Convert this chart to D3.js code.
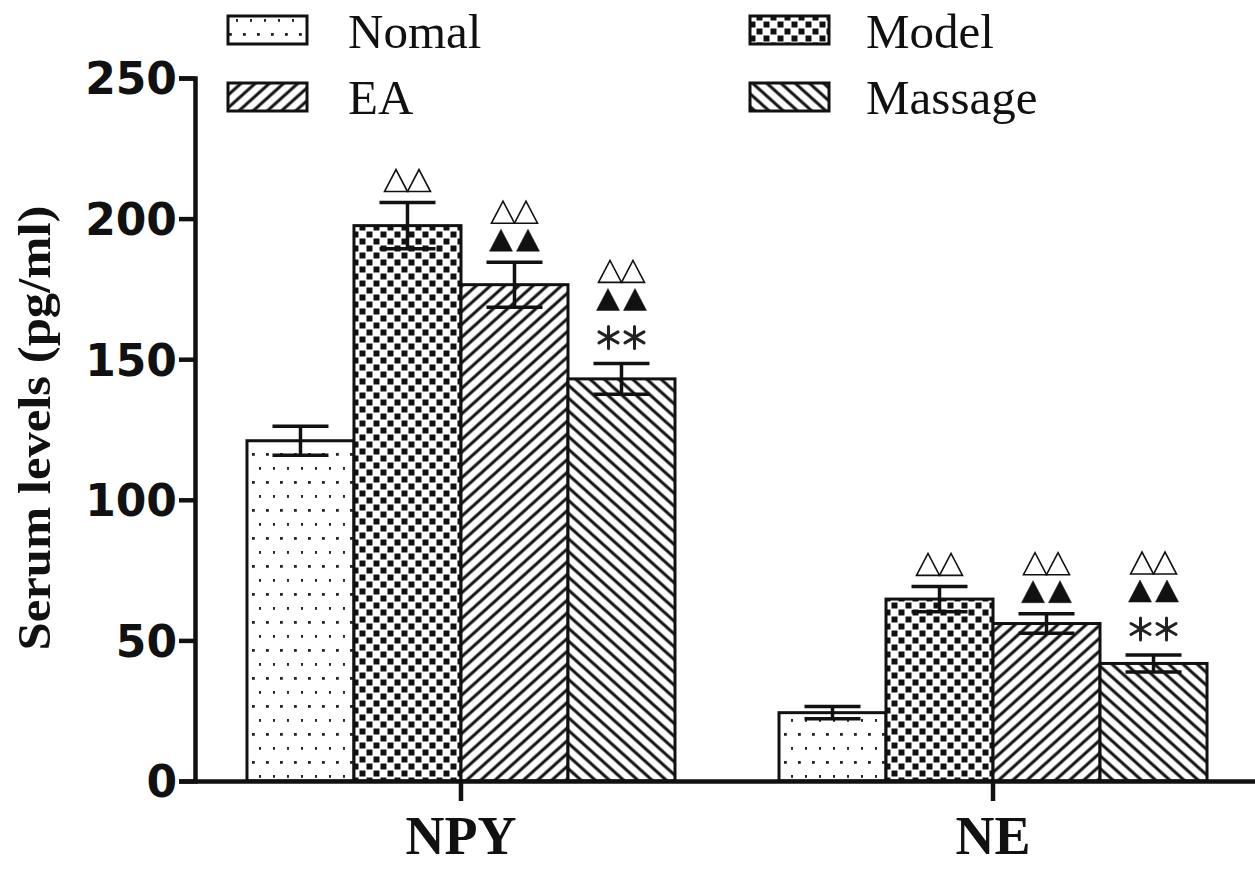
<!DOCTYPE html>
<html>
<head>
<meta charset="utf-8">
<script src="https://cdn.jsdelivr.net/npm/d3@7"></script>
<style>
  html, body { margin: 0; padding: 0; background: #fff; }
  svg { display: block; }
</style>
</head>
<body>
<svg id="chart" width="1255" height="869"></svg>
<script>
// ---- data ----
const categories = ["NPY", "NE"];
const series = ["Nomal", "Model", "EA", "Massage"];
const npyMeans = [121, 197.5, 176.5, 143];
const npyErrors = [5.2, 8.2, 8, 5.5];
const neMeans = [24.3, 64.7, 56, 41.8];
const neErrors = [2.2, 4.5, 3.5, 3];
const yTicks = [0, 50, 100, 150, 200, 250];
const yTitle = "Serum levels (pg/ml)";
// significance markers per series (bottom to top): star = **, filled = ▲▲, open = △△
const npyMarks = [[], ["open"], ["filled", "open"], ["star", "filled", "open"]];
const neMarks = [[], ["open"], ["filled", "open"], ["star", "filled", "open"]];

const meansByCat = [npyMeans, neMeans];
const errsByCat = [npyErrors, neErrors];
const marksByCat = [npyMarks, neMarks];

const svg = d3.select("#chart");
const defs = svg.append("defs");

// patterns
const pDots = defs.append("pattern").attr("id", "pat-Nomal")
  .attr("patternUnits", "userSpaceOnUse").attr("width", 14).attr("height", 28);
pDots.append("rect").attr("width", 14).attr("height", 28).attr("fill", "#fff");
[[5, 5], [12, 19]].forEach(([x, y]) =>
  pDots.append("rect").attr("x", x).attr("y", y).attr("width", 2.8).attr("height", 2.8).attr("fill", "#222"));

const pCheck = defs.append("pattern").attr("id", "pat-Model")
  .attr("patternUnits", "userSpaceOnUse").attr("width", 14).attr("height", 14);
pCheck.append("rect").attr("width", 14).attr("height", 14).attr("fill", "#fff");
pCheck.append("rect").attr("x", 0.5).attr("y", 0.5).attr("width", 6).attr("height", 6).attr("fill", "#111");
pCheck.append("rect").attr("x", 7.5).attr("y", 7.5).attr("width", 6).attr("height", 6).attr("fill", "#111");

function hatch(id, angle) {
  const s = 9.5;
  const p = defs.append("pattern").attr("id", id)
    .attr("patternUnits", "userSpaceOnUse").attr("width", s).attr("height", s)
    .attr("patternTransform", `rotate(${angle})`);
  p.append("rect").attr("width", s).attr("height", s).attr("fill", "#fff");
  p.append("line").attr("x1", 0).attr("x2", s).attr("y1", s / 2).attr("y2", s / 2)
    .attr("stroke", "#111").attr("stroke-width", 3);
}
hatch("pat-EA", -42);
hatch("pat-Massage", 42);

// scales
const y = d3.scaleLinear().domain([0, 250]).range([781, 78]);
const x0 = d3.scaleBand().domain(categories).range([195, 1259])
  .paddingInner(0.1955).paddingOuter(0.0977);
const x1 = d3.scaleBand().domain(series).range([0, x0.bandwidth()]).padding(0);

// bars
const groups = svg.append("g").selectAll("g").data(categories).join("g")
  .attr("transform", d => `translate(${x0(d)},0)`);

groups.each(function (cat, ci) {
  const g = d3.select(this);
  const rows = series.map((s, si) => ({ s, v: meansByCat[ci][si], e: errsByCat[ci][si], m: marksByCat[ci][si] }));
  g.selectAll("rect.bar").data(rows).join("rect").attr("class", "bar")
    .attr("x", d => x1(d.s)).attr("width", x1.bandwidth())
    .attr("y", d => y(d.v)).attr("height", d => y(0) - y(d.v))
    .attr("fill", d => `url(#pat-${d.s})`)
    .attr("stroke", "#111").attr("stroke-width", 3);

  // error bars
  const capW = 56;
  rows.forEach(d => {
    const cx = x1(d.s) + x1.bandwidth() / 2;
    const eg = g.append("g").attr("stroke", "#111").attr("stroke-width", 3.5);
    eg.append("line").attr("x1", cx).attr("x2", cx).attr("y1", y(d.v + d.e)).attr("y2", y(d.v - d.e));
    eg.append("line").attr("x1", cx - capW / 2).attr("x2", cx + capW / 2).attr("y1", y(d.v + d.e)).attr("y2", y(d.v + d.e));
    eg.append("line").attr("x1", cx - capW / 2).attr("x2", cx + capW / 2).attr("y1", y(d.v - d.e)).attr("y2", y(d.v - d.e));

    // significance markers
    let prevC = null, prevType = null;
    d.m.forEach((type, i) => {
      let c;
      if (i === 0) c = y(d.v + d.e) - (type === "star" ? 26 : 22);
      else c = prevC - (prevType === "star" ? 38 : 28);
      prevC = c; prevType = type;
      const mx = cx + 0;
      if (type === "open" || type === "filled") {
        const w = type === "open" ? 23 : 23, h = 22;
        const off = type === "open" ? 11.5 : 13.5;
        [-off, off].forEach(o => {
          const tx = mx + o;
          g.append("path")
            .attr("d", `M${tx - w / 2},${c + h / 2} L${tx},${c - h / 2} L${tx + w / 2},${c + h / 2} Z`)
            .attr("fill", type === "open" ? "#fff" : "#111")
            .attr("stroke", "#111")
            .attr("stroke-width", type === "open" ? 1.6 : 0.5)
            .attr("stroke-linejoin", "miter");
        });
      } else {
        [-13, 13].forEach(o => {
          const sx = mx + o, r = 11;
          const sg = g.append("g").attr("stroke", "#222").attr("stroke-width", 3).attr("stroke-linecap", "round");
          [90, 30, -30].forEach(a => {
            const rad = a * Math.PI / 180;
            sg.append("line")
              .attr("x1", sx - r * Math.cos(rad)).attr("y1", c + r * Math.sin(rad))
              .attr("x2", sx + r * Math.cos(rad)).attr("y2", c - r * Math.sin(rad));
          });
        });
      }
    });
  });
});

// axes
const yAxis = svg.append("g").attr("transform", "translate(195,0)")
  .call(d3.axisLeft(y).tickValues(yTicks).tickSize(16).tickSizeOuter(16).tickPadding(2));
yAxis.select(".domain").attr("stroke", "#111").attr("stroke-width", 4.5);
yAxis.selectAll(".tick line").attr("stroke", "#111").attr("stroke-width", 4.5);
yAxis.selectAll(".tick text")
  .attr("font-family", "'DejaVu Sans', sans-serif").attr("font-weight", "bold")
  .attr("font-size", 44).attr("fill", "#111").attr("dy", "0.36em");

const xAxis = svg.append("g").attr("transform", "translate(0,781)")
  .call(d3.axisBottom(x0).tickSize(20).tickSizeOuter(0));
xAxis.select(".domain").attr("stroke", "#111").attr("stroke-width", 4.5);
xAxis.selectAll(".tick line").attr("stroke", "#111").attr("stroke-width", 4.5);
xAxis.selectAll(".tick text")
  .attr("font-family", "'Liberation Serif', 'Times New Roman', serif").attr("font-weight", "bold")
  .attr("font-size", 54).attr("fill", "#111").attr("y", 73).attr("dy", 0);

// y title
svg.append("text")
  .attr("transform", "translate(50,428) rotate(-90)")
  .attr("text-anchor", "middle")
  .attr("font-family", "'Liberation Serif', 'Times New Roman', serif").attr("font-weight", "bold")
  .attr("font-size", 46).attr("fill", "#111")
  .attr("textLength", 445).attr("lengthAdjust", "spacingAndGlyphs")
  .text(yTitle);

// legend
const legendPos = [
  { s: "Nomal", x: 228, y: 16, tx: 348, ty: 48 },
  { s: "Model", x: 750, y: 16, tx: 866, ty: 48 },
  { s: "EA", x: 228, y: 83, tx: 348, ty: 114 },
  { s: "Massage", x: 750, y: 83, tx: 866, ty: 114 }
];
const lg = svg.append("g").selectAll("g").data(legendPos).join("g");
lg.append("rect").attr("x", d => d.x).attr("y", d => d.y).attr("width", 79).attr("height", 28)
  .attr("fill", d => `url(#pat-${d.s})`).attr("stroke", "#111").attr("stroke-width", 3);
lg.append("text").attr("x", d => d.tx).attr("y", d => d.ty)
  .attr("font-family", "'Liberation Serif', 'Times New Roman', serif")
  .attr("font-size", 49).attr("fill", "#111").text(d => d.s);
</script>
</body>
</html>
